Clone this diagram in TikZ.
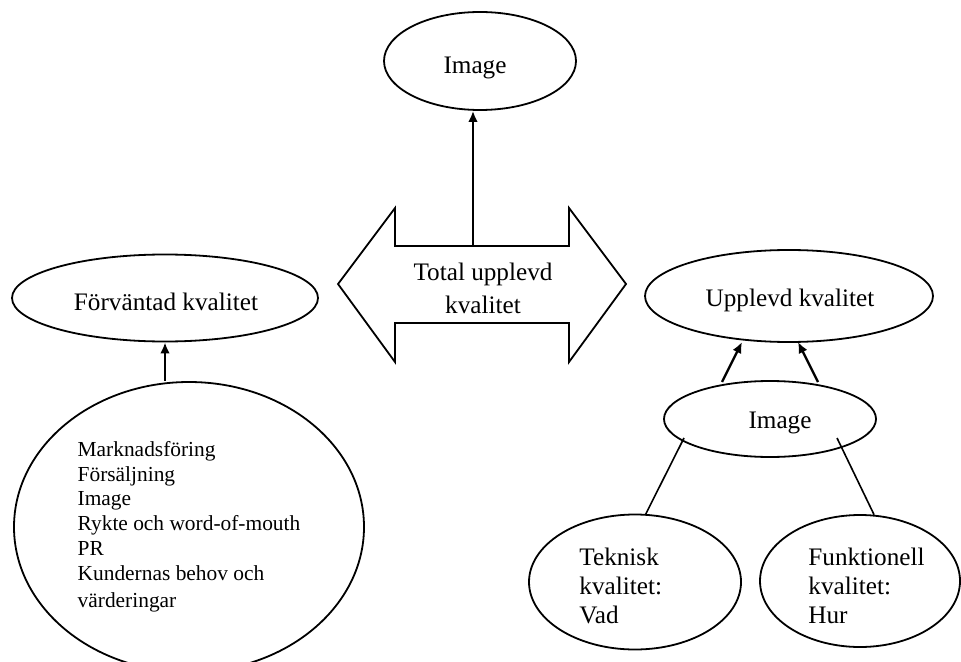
\documentclass[tikz,border=0pt]{standalone}
\usepackage{fontspec}
\setmainfont{Liberation Serif}
\usetikzlibrary{shapes.geometric,arrows.meta}
\begin{document}
\begin{tikzpicture}[x=0.5pt,y=0.5pt,
  every node/.style={font=\fontsize{12.6}{15}\selectfont},
  ell/.style={draw,ellipse,line width=0.9pt,inner sep=0pt},
  arr/.style={-{Latex[length=5.5pt,width=4.8pt]},line width=1.2pt},
  lin/.style={line width=0.8pt},
  txt/.style={align=left,inner sep=0pt}]
\useasboundingbox (0,0) rectangle (961,-662);
% ellipses
\node[ell,minimum width=96pt,minimum height=49pt] (imgtop) at (480,-61) {};
\node[inner sep=0pt] (imgtopt) at (475,-68) {Image};
\node[ell,minimum width=153pt,minimum height=43.5pt] (forv) at (165,-298) {};
\node[inner sep=0pt] (forvt) at (166,-302) {Förväntad kvalitet};
\node[ell,minimum width=175pt,minimum height=145pt,align=left,
  font=\fontsize{10.7}{12.35}\selectfont] (bot) at (189,-527)
  {Marknadsföring\\Försäljning\\Image\\Rykte och word-of-mouth\\PR\\Kundernas behov och\\[1.6pt]värderingar};
\node[ell,minimum width=144pt,minimum height=46pt] (upp) at (789,-296) {};
\node[inner sep=0pt] (uppt) at (790,-300) {Upplevd kvalitet};
\node[ell,minimum width=106pt,minimum height=38pt] (img2) at (770,-419) {};
\node[inner sep=0pt] (img2t) at (780,-423) {Image};
\node[ell,minimum width=106pt,minimum height=67.5pt] (tek) at (635,-582) {};
\node[ell,minimum width=100pt,minimum height=66pt] (funk) at (860,-581) {};
\node[txt,anchor=west,font=\fontsize{12.6}{14.5}\selectfont] (tekt) at (579,-586) {Teknisk\\kvalitet:\\Vad};
\node[txt,anchor=west,font=\fontsize{12.6}{14.5}\selectfont] (funkt) at (808,-586) {Funktionell\\kvalitet:\\Hur};
% double arrow
\draw[line width=0.9pt,line join=miter] (338,-284) -- (395,-208) -- (395,-246) -- (569,-246) -- (569,-208)
  -- (626,-284) -- (569,-362) -- (569,-323) -- (395,-323) -- (395,-362) -- cycle;
\node[align=center,inner sep=0pt,font=\fontsize{12.6}{16.5}\selectfont] (tot) at (483,-288) {Total upplevd\\kvalitet};
\coordinate (tottop) at (473,-246);
% connectors
\draw[arr] (tottop) -- (tottop |- imgtop.south);
\draw[arr] (forv.south |- bot.north) -- (forv.south);
\coordinate (a1s) at (722,-382);
\coordinate (a1e) at (742,-342);
\coordinate (a2s) at (818,-382);
\coordinate (a2e) at (798,-342);
\draw[arr] (a1s) -- (a1e);
\draw[arr] (a2s) -- (a2e);
\coordinate (l1s) at (684,-438);
\coordinate (l2s) at (837,-438);
\draw[lin] (l1s) -- (tek.81);
\draw[lin] (l2s) -- (funk.78);
\end{tikzpicture}
\end{document}
